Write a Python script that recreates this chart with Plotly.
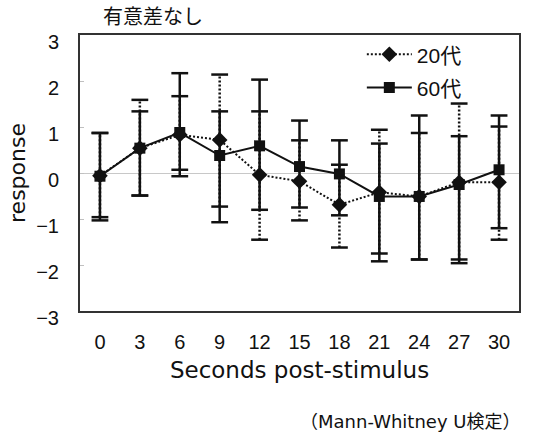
import plotly.graph_objects as go

# Time points (seconds after stimulus)
seconds = ["0", "3", "6", "9", "12", "15", "18", "21", "24", "27", "30"]

# 20代 group: mean response and error-bar endpoints
mean_20 = [-0.06, 0.54, 0.83, 0.72, -0.04, -0.18, -0.69, -0.42, -0.51, -0.20, -0.20]
upper_20 = [0.87, 1.59, 1.67, 2.14, 1.34, 0.71, 0.18, 0.94, 0.87, 1.51, 1.01]
lower_20 = [-0.96, -0.49, 0.07, -0.73, -1.45, -1.03, -1.62, -1.75, -1.88, -1.88, -1.45]

# 60代 group: mean response and error-bar endpoints
mean_60 = [-0.07, 0.54, 0.88, 0.38, 0.59, 0.14, -0.02, -0.51, -0.51, -0.25, 0.07]
upper_60 = [0.87, 1.34, 2.17, 1.34, 2.03, 1.14, 0.71, 0.64, 1.25, 0.80, 1.25]
lower_60 = [-1.03, -0.49, -0.07, -1.07, -0.80, -0.75, -0.92, -1.92, -1.88, -1.96, -1.20]

y_ticks = [-3, -2, -1, 0, 1, 2, 3]

SANS = "Liberation Sans, Noto Sans CJK JP"
WIDE = "DejaVu Sans, Noto Sans CJK JP"
CJK = "Noto Sans CJK JP"
INK = "#111111"


def whisker_traces(lower, upper, dash, group):
    """Vertical error-bar stems plus end caps for one series."""
    xs, ys = [], []
    for c, lo, hi in zip(seconds, lower, upper):
        xs += [c, c, None]
        ys += [lo, hi, None]
    stem = go.Scatter(
        x=xs, y=ys, mode="lines", legendgroup=group, showlegend=False,
        line=dict(color=INK, width=2.5, dash=dash), hoverinfo="skip",
    )
    caps = go.Scatter(
        x=seconds + seconds, y=list(lower) + list(upper), mode="markers",
        legendgroup=group, showlegend=False, hoverinfo="skip",
        marker=dict(symbol="line-ew", size=12, line=dict(color=INK, width=2.5)),
    )
    return [stem, caps]


fig = go.Figure()

# 20代: dotted line, diamonds
fig.add_traces(whisker_traces(lower_20, upper_20, "2px,2px", "g20"))
# 60代: solid line, squares
fig.add_traces(whisker_traces(lower_60, upper_60, "solid", "g60"))

fig.add_trace(go.Scatter(
    x=seconds, y=mean_20, name="20代", legendgroup="g20",
    mode="lines+markers",
    line=dict(color=INK, width=2, dash="2px,2px"),
    marker=dict(symbol="diamond", size=12, color=INK),
))
fig.add_trace(go.Scatter(
    x=seconds, y=mean_60, name="60代", legendgroup="g60",
    mode="lines+markers",
    line=dict(color=INK, width=2),
    marker=dict(symbol="square", size=11, color=INK),
))

fig.update_layout(
    width=534, height=433,
    margin=dict(l=80, r=15, t=35, b=122, autoexpand=False),
    paper_bgcolor="white", plot_bgcolor="white",
    font=dict(family=SANS, color=INK, size=18),
    showlegend=True,
    legend=dict(
        x=0.642, y=1.003, xanchor="left", yanchor="top",
        bgcolor="rgba(0,0,0,0)", font=dict(size=21, family=SANS),
        tracegroupgap=3, itemwidth=45,
    ),
    xaxis=dict(
        type="category", range=[-0.5, 10.5], automargin=False,
        showgrid=False, zeroline=False,
        showline=True, mirror=True, linecolor="#333333", linewidth=2,
        ticks="", ticklabelstandoff=12,
        tickfont=dict(size=20, family=SANS),
        title=dict(text="Seconds post-stimulus", font=dict(size=23, family=WIDE), standoff=10),
    ),
    yaxis=dict(
        range=[-3, 3], tickvals=y_ticks, automargin=False,
        showgrid=False,
        zeroline=True, zerolinecolor="#c8c8c8", zerolinewidth=1,
        showline=True, mirror=True, linecolor="#333333", linewidth=2,
        ticks="inside", ticklen=4, tickcolor="#c0c0c0",
        ticklabelstandoff=15, ticklabelshift=7,
        tickfont=dict(size=20, family=SANS),
        title=dict(text="response", font=dict(size=22, family=WIDE), standoff=4),
    ),
    annotations=[
        dict(text="有意差なし", xref="paper", yref="paper",
             x=0.048, y=1.072, xanchor="left", yanchor="middle",
             showarrow=False, font=dict(size=20, family=CJK)),
        dict(text="（Mann-Whitney U検定）", xref="paper", yref="paper",
             x=1.007, y=-0.40, xanchor="right", yanchor="middle",
             showarrow=False, font=dict(size=18, family=WIDE)),
    ],
)

fig.write_html("out.html")
